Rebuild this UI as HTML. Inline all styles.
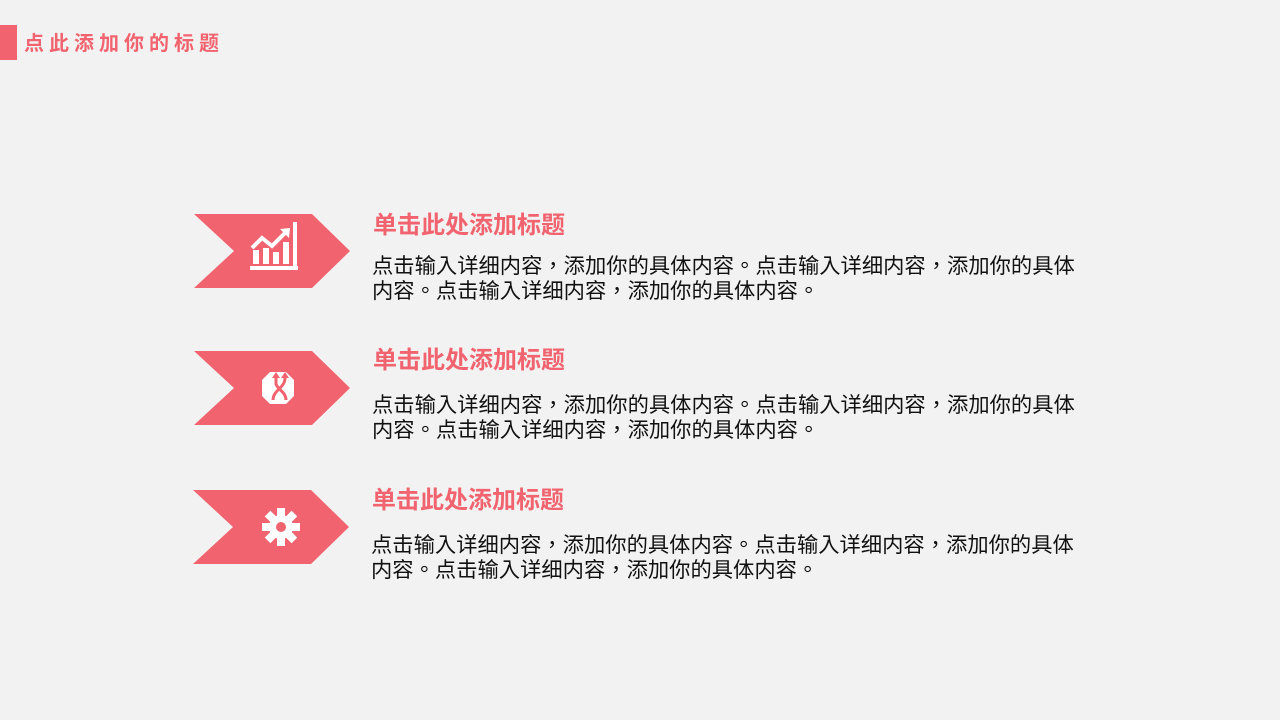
<!DOCTYPE html>
<html><head><meta charset="utf-8"><style>
body{margin:0;width:1280px;height:720px;background:#f2f2f2;position:relative;overflow:hidden;font-family:"Liberation Sans","Noto Sans CJK SC",sans-serif}
.bar{position:absolute;left:0;top:25px;width:17px;height:35px;background:#f1646f}
.t{position:absolute;left:24px;top:31px;font-size:20px;font-weight:bold;color:#f1646f;letter-spacing:5px;line-height:26px}
.h{position:absolute;left:373px;font-size:24px;font-weight:bold;color:#f1646f;line-height:30px}
.p{position:absolute;left:372px;font-size:21.3px;color:#111;line-height:25px;white-space:nowrap;font-family:"Liberation Sans","Noto Sans CJK TC",sans-serif}
svg{position:absolute;left:0;top:0}
</style></head><body>
<div class="bar"></div><div class="t">点此添加你的标题</div>
<svg width="1280" height="720">
<g fill="#f1646f">
<polygon points="194,214 312,214 350,251 312,288 194,288 234,251"/>
<polygon points="194,351 312,351 350,388 312,425 194,425 234,388"/>
<polygon points="193,490 311,490 349,527 311,564 193,564 233,527"/>
</g>
<g fill="#fff">
<rect x="250" y="266" width="48" height="4"/>
<rect x="293" y="222" width="4" height="48"/>
<rect x="253" y="250" width="6" height="14"/><rect x="263" y="248" width="6" height="16"/><rect x="273" y="252" width="6" height="12"/><rect x="283" y="242" width="6" height="22"/>
<polyline points="252,248 262,238 272,246 286,232" fill="none" stroke="#fff" stroke-width="4"/>
<polygon points="280,229 290,228 289,238"/>
<polygon points="270,372 286,372 294,380 294,396 286,404 270,404 262,396 262,380"/>
<circle cx="281" cy="527" r="12"/>
<g transform="translate(281 527)"><rect x="-4" y="-19" width="8" height="38"/><rect x="-19" y="-4" width="38" height="8"/><rect x="-4" y="-19" width="8" height="38" transform="rotate(45)"/><rect x="-4" y="-19" width="8" height="38" transform="rotate(-45)"/></g>
</g>
<circle cx="281" cy="527" r="5" fill="#f1646f"/>
<g stroke="#f1646f" stroke-width="3" fill="none"><path d="M273,400 C273,390 285,388 285,378"/><path d="M286,400 C286,392 278,390 276,384 L276,378"/></g>
<g fill="#f1646f"><polygon points="272,378 276,372 280,378"/><polygon points="281,378 285,372 289,378"/></g>
</svg>
<div class="h" style="top:211px">单击此处添加标题</div>
<div class="p" style="top:254px">点击输入详细内容，添加你的具体内容。点击输入详细内容，添加你的具体<br>内容。点击输入详细内容，添加你的具体内容。</div>
<div class="h" style="top:346px">单击此处添加标题</div>
<div class="p" style="top:393px">点击输入详细内容，添加你的具体内容。点击输入详细内容，添加你的具体<br>内容。点击输入详细内容，添加你的具体内容。</div>
<div class="h" style="top:486px;left:372px">单击此处添加标题</div>
<div class="p" style="top:533px;left:371px">点击输入详细内容，添加你的具体内容。点击输入详细内容，添加你的具体<br>内容。点击输入详细内容，添加你的具体内容。</div>
</body></html>
